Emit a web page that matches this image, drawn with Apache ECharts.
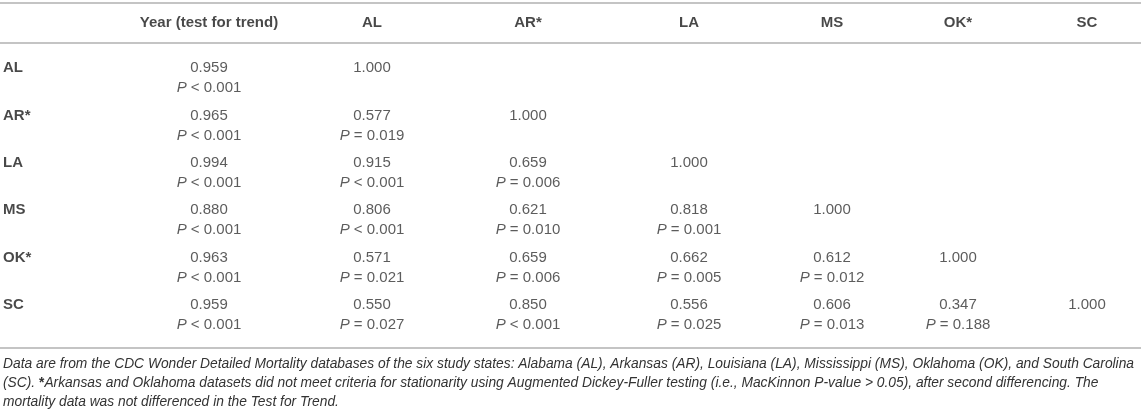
<!DOCTYPE html>
<html>
<head>
<meta charset="utf-8">
<script src="https://cdn.jsdelivr.net/npm/echarts@6/dist/echarts.min.js"></script>
<style>html,body{margin:0;padding:0;background:#fff;}#c{width:1143px;height:415px;}</style>
</head>
<body>
<div id="c"></div>
<script>
// ---- data ----
var rowNames = ['AL', 'AR*', 'LA', 'MS', 'OK*', 'SC'];
var colNames = ['Year (test for trend)', 'AL', 'AR*', 'LA', 'MS', 'OK*', 'SC'];
var trendR = [0.959, 0.965, 0.994, 0.880, 0.963, 0.959];
var trendP = ['< 0.001', '< 0.001', '< 0.001', '< 0.001', '< 0.001', '< 0.001'];
var corrAL = [1.000];
var corrAR = [0.577, 1.000];
var corrLA = [0.915, 0.659, 1.000];
var corrMS = [0.806, 0.621, 0.818, 1.000];
var corrOK = [0.571, 0.659, 0.662, 0.612, 1.000];
var corrSC = [0.550, 0.850, 0.556, 0.606, 0.347, 1.000];
var pAL = [];
var pAR = ['= 0.019'];
var pLA = ['< 0.001', '= 0.006'];
var pMS = ['< 0.001', '= 0.010', '= 0.001'];
var pOK = ['= 0.021', '= 0.006', '= 0.005', '= 0.012'];
var pSC = ['= 0.027', '< 0.001', '= 0.025', '= 0.013', '= 0.188'];
var footLines = [
  'Data are from the CDC Wonder Detailed Mortality databases of the six study states: Alabama (AL), Arkansas (AR), Louisiana (LA), Mississippi (MS), Oklahoma (OK), and South Carolina',
  '(SC). {b|*}Arkansas and Oklahoma datasets did not meet criteria for stationarity using Augmented Dickey-Fuller testing (i.e., MacKinnon P-value > 0.05), after second differencing. The',
  'mortality data was not differenced in the Test for Trend.'
];

// ---- layout (table column centres, not data) ----
var colCenters = [209, 372, 528, 689, 832, 958, 1087];
var labelX = 3;
var FONT = '"Liberation Sans", Arial, Helvetica, sans-serif';

var corrRows = [corrAL, corrAR, corrLA, corrMS, corrOK, corrSC];
var pRows = [pAL, pAR, pLA, pMS, pOK, pSC];
var yCats = ['header'].concat(rowNames);

var headerData = colNames.map(function (n, i) { return { value: [colCenters[i], 'header'], name: n }; });
var rowLabelData = rowNames.map(function (n) { return { value: [labelX, n], name: n }; });
var cellData = [];
rowNames.forEach(function (r, ri) {
  cellData.push({ value: [colCenters[0], r], r: trendR[ri], p: trendP[ri] });
  corrRows[ri].forEach(function (v, ci) {
    cellData.push({ value: [colCenters[ci + 1], r], r: v, p: pRows[ri][ci] || null });
  });
});

var chart = echarts.init(document.getElementById('c'), null, { renderer: 'canvas' });
chart.setOption({
  animation: false,
  backgroundColor: '#fff',
  grid: { left: 0, right: 0, top: 6.9, height: 331.8 },
  xAxis: { type: 'value', min: 0, max: 1143, show: false },
  yAxis: { type: 'category', data: yCats, inverse: true, show: false },
  graphic: [
    { type: 'line', shape: { x1: 0, y1: 3, x2: 1141, y2: 3 }, style: { stroke: '#c4c4c4', lineWidth: 2 } },
    { type: 'line', shape: { x1: 0, y1: 43, x2: 1141, y2: 43 }, style: { stroke: '#c4c4c4', lineWidth: 2 } },
    { type: 'line', shape: { x1: 0, y1: 348, x2: 1141, y2: 348 }, style: { stroke: '#c4c4c4', lineWidth: 2 } },
    { type: 'text', left: 3, top: 354.5, style: {
        text: footLines.join('\n'), font: 'italic 13.8px ' + FONT, lineHeight: 19, fill: '#333',
        rich: { b: { fontStyle: 'normal', fontWeight: 'bold', fontSize: 13.8, fontFamily: FONT, fill: '#333', lineHeight: 19 } }
    } }
  ],
  series: [
    {
      type: 'scatter', symbolSize: 0, data: headerData,
      label: { show: true, position: 'inside', offset: [0, -7.6], formatter: function (p) { return p.name; },
        fontFamily: FONT, fontSize: 15, fontWeight: 'bold', color: '#1a1a1a' }
    },
    {
      type: 'scatter', symbolSize: 0, data: rowLabelData,
      label: { show: true, position: 'inside', align: 'left', offset: [0, -10], formatter: function (p) { return p.name; },
        fontFamily: FONT, fontSize: 15, fontWeight: 'bold', color: '#1a1a1a' }
    },
    {
      type: 'scatter', symbolSize: 0, data: cellData,
      label: {
        show: true, position: 'inside',
        formatter: function (p) {
          var d = p.data;
          return '{v|' + d.r.toFixed(3) + '}\n' + (d.p ? '{i|P}{v| ' + d.p + '}' : '{v| }');
        },
        rich: {
          v: { fontFamily: FONT, fontSize: 15, color: '#333', lineHeight: 20 },
          i: { fontFamily: FONT, fontSize: 15, fontStyle: 'italic', color: '#333', lineHeight: 20 }
        }
      }
    }
  ]
});
</script>
</body>
</html>
